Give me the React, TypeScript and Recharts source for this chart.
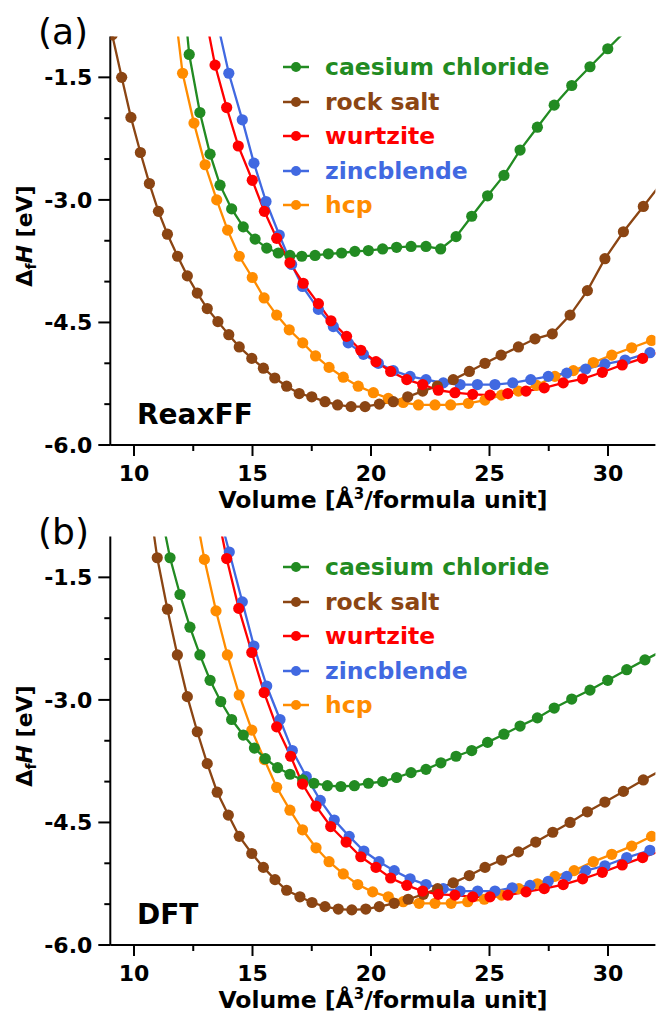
import { LineChart, Line, XAxis, YAxis, Legend } from 'recharts';

const FONT = '"DejaVu Sans", sans-serif';

const seriesNames = ['caesium chloride', 'rock salt', 'wurtzite', 'zincblende', 'hcp'];
const seriesColors = ['#228B22', '#8B4513', '#FF0000', '#4169E1', '#FF8C00'];
// paint order: hcp, zincblende, caesium chloride, rock salt, wurtzite on top
const drawOrder = [4, 3, 0, 1, 2];

const xTicks = [10, 12.5, 15, 17.5, 20, 22.5, 25, 27.5, 30];
const yTicksLeft = [-6, -5.5, -5, -4.5, -4, -3.5, -3, -2.5, -2, -1.5];
const yTicksRight = [-5, -4, -3, -2];

// (a) ReaxFF  [volume, dH]
const reaxCsCl = [
  [11.88, 0.15], [12.33, -1.22], [12.78, -1.93], [13.21, -2.44], [13.63, -2.82], [14.12, -3.11],
  [14.61, -3.33], [15.11, -3.48], [15.6, -3.59], [16.09, -3.65], [16.58, -3.68], [17.08, -3.69],
  [17.64, -3.68], [18.2, -3.66], [18.76, -3.65], [19.32, -3.63], [19.89, -3.62], [20.49, -3.6],
  [21.08, -3.58], [21.69, -3.57], [22.32, -3.57], [22.94, -3.6], [23.59, -3.45], [24.25, -3.2],
  [24.92, -2.95], [25.61, -2.7], [26.29, -2.39], [27.02, -2.11], [27.73, -1.84], [28.47, -1.6],
  [29.24, -1.37], [29.99, -1.15], [30.78, -0.92],
];
const reaxRockSalt = [
  [9.08, -0.98], [9.48, -1.5], [9.87, -1.99], [10.27, -2.42], [10.65, -2.8], [11.03, -3.14],
  [11.41, -3.42], [11.84, -3.69], [12.25, -3.93], [12.67, -4.14], [13.09, -4.33], [13.54, -4.49],
  [14.0, -4.65], [14.44, -4.8], [14.97, -4.94], [15.46, -5.06], [15.94, -5.18], [16.44, -5.28],
  [16.97, -5.37], [17.5, -5.41], [18.06, -5.47], [18.59, -5.51], [19.16, -5.53], [19.75, -5.53],
  [20.35, -5.5], [20.94, -5.47], [21.55, -5.41], [22.18, -5.34], [22.8, -5.28], [23.47, -5.2],
  [24.15, -5.1], [24.81, -5.0], [25.49, -4.9], [26.22, -4.8], [26.92, -4.7], [27.65, -4.64],
  [28.4, -4.41], [29.13, -4.11], [29.87, -3.72], [30.65, -3.39], [31.49, -3.08], [32.3, -2.78],
];
const reaxWurtzite = [
  [12.93, -0.62], [13.42, -1.35], [13.91, -1.87], [14.4, -2.34], [14.99, -2.76], [15.5, -3.14],
  [16.02, -3.47], [16.58, -3.77], [17.14, -4.02], [17.78, -4.27], [18.31, -4.48], [18.97, -4.67],
  [19.57, -4.84], [20.21, -4.98], [20.83, -5.1], [21.51, -5.2], [22.18, -5.26], [22.84, -5.33],
  [23.54, -5.36], [24.29, -5.38], [25.02, -5.39], [25.77, -5.37], [26.54, -5.34], [27.31, -5.3],
  [28.11, -5.24], [28.93, -5.19], [29.76, -5.11], [30.6, -5.02], [31.46, -4.94], [32.28, -4.85],
];
const reaxZincblende = [
  [13.45, -0.74], [14.0, -1.45], [14.57, -2.02], [15.06, -2.55], [15.57, -3.02], [16.13, -3.43],
  [16.65, -3.79], [17.11, -4.06], [17.78, -4.34], [18.41, -4.55], [19.04, -4.75], [19.68, -4.89],
  [20.31, -5.0], [20.94, -5.09], [21.65, -5.16], [22.32, -5.2], [23.05, -5.24], [23.76, -5.26],
  [24.49, -5.26], [25.23, -5.26], [25.98, -5.24], [26.74, -5.2], [27.48, -5.16], [28.26, -5.12],
  [29.06, -5.07], [29.87, -5.01], [30.72, -4.96], [31.77, -4.87],
];
const reaxHcp = [
  [11.57, -0.3], [12.05, -1.45], [12.53, -2.06], [13.0, -2.57], [13.49, -3.0], [13.95, -3.37],
  [14.44, -3.69], [14.99, -3.95], [15.49, -4.2], [16.02, -4.41], [16.55, -4.59], [17.12, -4.75],
  [17.66, -4.91], [18.23, -5.05], [18.83, -5.17], [19.46, -5.28], [20.1, -5.36], [20.73, -5.43],
  [21.36, -5.48], [22.0, -5.51], [22.7, -5.51], [23.36, -5.51], [24.11, -5.49], [24.81, -5.45],
  [25.51, -5.39], [26.22, -5.34], [26.99, -5.27], [27.76, -5.16], [28.54, -5.09], [29.38, -4.99],
  [30.16, -4.9], [31.0, -4.81], [31.84, -4.72],
];

// (b) DFT
const dftCsCl = [
  [11.1, -0.65], [11.52, -1.26], [11.94, -1.71], [12.36, -2.11], [12.78, -2.45], [13.21, -2.76],
  [13.66, -3.02], [14.12, -3.24], [14.61, -3.43], [15.08, -3.59], [15.54, -3.72], [16.06, -3.83],
  [16.58, -3.91], [17.12, -3.98], [17.59, -4.02], [18.16, -4.05], [18.73, -4.06], [19.3, -4.05],
  [19.89, -4.02], [20.49, -4.0], [21.08, -3.95], [21.69, -3.89], [22.32, -3.85], [22.95, -3.77],
  [23.59, -3.69], [24.25, -3.62], [24.92, -3.52], [25.61, -3.42], [26.29, -3.32], [27.02, -3.22],
  [27.73, -3.1], [28.47, -2.99], [29.24, -2.88], [29.99, -2.76], [30.79, -2.63], [31.56, -2.51],
  [32.36, -2.39],
];
const dftRockSalt = [
  [10.56, -0.4], [10.98, -1.26], [11.41, -1.89], [11.83, -2.45], [12.25, -2.96], [12.67, -3.39],
  [13.09, -3.78], [13.51, -4.13], [13.98, -4.41], [14.44, -4.67], [14.97, -4.88], [15.46, -5.05],
  [15.95, -5.2], [16.44, -5.33], [17.0, -5.41], [17.51, -5.48], [18.06, -5.53], [18.62, -5.56],
  [19.19, -5.57], [19.78, -5.56], [20.35, -5.53], [20.98, -5.49], [21.57, -5.44], [22.21, -5.38],
  [22.81, -5.31], [23.47, -5.24], [24.15, -5.15], [24.81, -5.05], [25.51, -4.96], [26.22, -4.86],
  [26.95, -4.74], [27.67, -4.62], [28.4, -4.5], [29.13, -4.37], [29.87, -4.25], [30.65, -4.12],
  [31.49, -3.98], [32.32, -3.85],
];
const dftWurtzite = [
  [13.4, -0.54], [13.91, -1.27], [14.42, -1.88], [14.97, -2.42], [15.49, -2.91], [16.02, -3.33],
  [16.61, -3.69], [17.11, -4.03], [17.68, -4.3], [18.3, -4.55], [18.95, -4.74], [19.57, -4.92],
  [20.21, -5.05], [20.83, -5.18], [21.51, -5.27], [22.18, -5.34], [22.84, -5.38], [23.54, -5.39],
  [24.29, -5.41], [25.02, -5.41], [25.77, -5.39], [26.54, -5.35], [27.31, -5.31], [28.11, -5.26],
  [28.93, -5.19], [29.76, -5.11], [30.6, -5.02], [31.46, -4.93], [32.3, -4.84],
];
const dftZincblende = [
  [13.47, -0.59], [14.02, -1.19], [14.57, -1.8], [15.06, -2.34], [15.6, -2.83], [16.16, -3.24],
  [16.68, -3.62], [17.27, -3.94], [17.86, -4.23], [18.45, -4.47], [19.08, -4.67], [19.7, -4.85],
  [20.34, -4.98], [20.98, -5.09], [21.65, -5.19], [22.32, -5.26], [23.05, -5.31], [23.76, -5.34],
  [24.5, -5.34], [25.23, -5.34], [25.96, -5.3], [26.71, -5.27], [27.48, -5.22], [28.26, -5.16],
  [29.06, -5.09], [29.87, -5.03], [30.79, -4.93], [31.77, -4.84],
];
const dftHcp = [
  [12.48, -0.51], [12.97, -1.28], [13.46, -1.91], [13.94, -2.45], [14.44, -2.94], [14.97, -3.37],
  [15.5, -3.73], [16.02, -4.07], [16.58, -4.35], [17.11, -4.59], [17.68, -4.81], [18.23, -4.98],
  [18.83, -5.13], [19.44, -5.26], [20.07, -5.35], [20.73, -5.41], [21.36, -5.47], [22.03, -5.49],
  [22.7, -5.49], [23.38, -5.49], [24.08, -5.47], [24.78, -5.44], [25.51, -5.39], [26.24, -5.31],
  [27.02, -5.25], [27.76, -5.16], [28.57, -5.09], [29.38, -4.98], [30.16, -4.89], [31.0, -4.79],
  [31.84, -4.67],
];

const toRows = (pts: number[][]) => pts.map(([v, e]) => ({ v, e }));

const reaxSeries = [reaxCsCl, reaxRockSalt, reaxWurtzite, reaxZincblende, reaxHcp].map(toRows);
const dftSeries = [dftCsCl, dftRockSalt, dftWurtzite, dftZincblende, dftHcp].map(toRows);

const axisLine = { stroke: '#000', strokeWidth: 2 };
const tickText = { fontFamily: FONT, fontSize: 22, fontWeight: 'bold' as const, fill: '#000' };

const BottomTick = (props: any) => {
  const { x, y, payload } = props;
  const v = payload.value;
  const major = v % 5 === 0;
  return (
    <g>
      <line x1={x} x2={x} y1={y} y2={y + (major ? 11 : 6)} stroke="#000" strokeWidth={2} />
      {major && (
        <text x={x} y={y + 36} textAnchor="middle" {...tickText}>{v}</text>
      )}
    </g>
  );
};

const TopTick = (props: any) => {
  const { x, y } = props;
  return <line x1={x} x2={x} y1={y} y2={y + 10} stroke="#000" strokeWidth={2} />;
};

const LeftTick = (props: any) => {
  const { x, y, payload } = props;
  const v = payload.value;
  const major = Math.abs(v % 1.5) < 1e-9;
  return (
    <g>
      <line x1={x} x2={x - (major ? 12 : 6)} y1={y} y2={y} stroke="#000" strokeWidth={2} />
      {major && (
        <text x={x - 18} y={y} dy="0.36em" textAnchor="end" {...tickText}>{v.toFixed(1)}</text>
      )}
    </g>
  );
};

const RightTick = (props: any) => {
  const { x, y } = props;
  return <line x1={x} x2={x - 10} y1={y} y2={y} stroke="#000" strokeWidth={2} />;
};

const renderLegend = (props: any) => {
  const items = [...(props.payload || [])].sort(
    (a: any, b: any) => seriesNames.indexOf(a.value) - seriesNames.indexOf(b.value)
  );
  return (
    <div>
      {items.map((it: any) => (
        <div key={it.value} style={{ display: 'flex', alignItems: 'center', height: 34.6 }}>
          <svg width={42} height={14} style={{ flex: 'none' }}>
            <line x1={0} x2={26} y1={7} y2={7} stroke={it.color} strokeWidth={2.5} />
            <circle cx={13} cy={7} r={5} fill={it.color} />
          </svg>
          <span style={{ color: it.color, fontFamily: FONT, fontWeight: 'bold', fontSize: 23.5, whiteSpace: 'nowrap' }}>
            {it.value}
          </span>
        </div>
      ))}
    </div>
  );
};

const Panel = ({ series, tag, method, top }: { series: { v: number; e: number }[][]; tag: string; method: string; top: number }) => (
  <div style={{ position: 'absolute', left: 0, top, width: 656, height: 514 }}>
    <LineChart width={656} height={514} margin={{ top: 36.5, right: 0.6, bottom: 0, left: 0 }}>
      <XAxis xAxisId="b" type="number" dataKey="v" domain={[9, 32]} allowDataOverflow ticks={xTicks} interval={0}
        tickSize={0} tickMargin={0} tickLine={false} tick={<BottomTick />} height={69} axisLine={axisLine} />
      <XAxis xAxisId="t" orientation="top" type="number" dataKey="v" domain={[9, 32]} allowDataOverflow ticks={xTicks}
        interval={0} tickSize={0} tickMargin={0} tickLine={false} tick={<TopTick />} height={0} axisLine={axisLine} />
      <YAxis yAxisId="l" type="number" dataKey="e" domain={[-6, -1]} allowDataOverflow ticks={yTicksLeft} interval={0}
        tickSize={0} tickMargin={0} tickLine={false} tick={<LeftTick />} width={110.3} axisLine={axisLine} />
      <YAxis yAxisId="r" orientation="right" type="number" dataKey="e" domain={[-6, -1]} allowDataOverflow ticks={yTicksRight}
        interval={0} tickSize={0} tickMargin={0} tickLine={false} tick={<RightTick />} width={0} axisLine={axisLine} />
      {drawOrder.map((i) => (
        <Line key={seriesNames[i]} xAxisId="b" yAxisId="l" data={series[i]} dataKey="e" name={seriesNames[i]}
          type="linear" stroke={seriesColors[i]} strokeWidth={2.3}
          dot={{ r: 5.6, fill: seriesColors[i], stroke: seriesColors[i], strokeWidth: 0 }}
          activeDot={false} isAnimationActive={false} />
      ))}
      <Legend layout="vertical" align="center" verticalAlign="middle" content={renderLegend}
        wrapperStyle={{ left: 283, top: 49.7, width: 300 }} />
    </LineChart>
    <svg width={656} height={514} overflow="visible" style={{ position: 'absolute', left: 0, top: 0, pointerEvents: 'none', overflow: 'visible' }}>
      <text x={38} y={44} fontFamily={FONT} fontSize={36} fill="#000">{tag}</text>
      <text x={137} y={424} fontFamily={FONT} fontSize={28} fontWeight="bold" fill="#000">{method}</text>
      <text x={383} y={508} textAnchor="middle" fontFamily={FONT} fontSize={23.5} fontWeight="bold" fill="#000">
        Volume [Å<tspan dy={-9} fontSize={15}>3</tspan><tspan dy={9}>/formula unit]</tspan>
      </text>
      <text transform="translate(32, 236) rotate(-90)" textAnchor="middle" fontFamily={FONT} fontSize={22}
        fontWeight="bold" fill="#000">
        Δ<tspan dy={4} fontSize={14}>f</tspan><tspan dy={-4} fontStyle="italic">H</tspan> [eV]
      </text>
    </svg>
  </div>
);

export default function App() {
  return (
    <div style={{ position: 'absolute', left: 0, top: 0, width: 656, height: 1014, background: '#fff' }}>
      <Panel series={reaxSeries} tag="(a)" method="ReaxFF" top={0} />
      <Panel series={dftSeries} tag="(b)" method="DFT" top={500} />
    </div>
  );
}
